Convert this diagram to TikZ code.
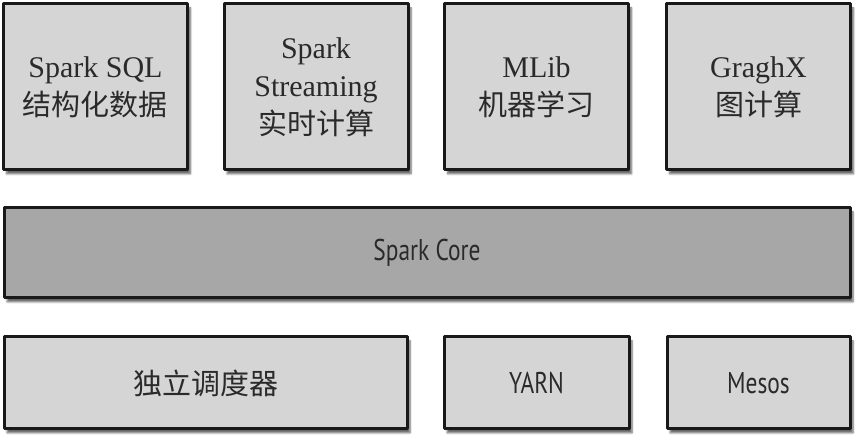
\documentclass[tikz,border=0pt]{standalone}
\usepackage{fontspec}
\setmainfont{Liberation Serif}
\newfontfamily\cjk{Noto Sans CJK SC}
\newfontfamily\cond[FakeStretch=0.78]{PT Sans}
\usetikzlibrary{shadows.blur}
\definecolor{lite}{HTML}{D5D5D5}
\definecolor{mid}{HTML}{A7A7A8}
\definecolor{ink}{HTML}{2A2A2A}
\begin{document}
\begin{tikzpicture}[x=1pt, y=1pt, line join=round,
  box/.style={draw=black!90, line width=3pt, fill=#1, text=ink, align=center, inner sep=0pt,
    blur shadow={shadow xshift=3pt, shadow yshift=-4pt, shadow blur steps=6, shadow opacity=60}},
  box/.default=lite,
  top/.style={box, minimum width=184pt, minimum height=166pt, font=\fontsize{30}{38}\selectfont},
  low/.style={box, minimum height=92pt, font=\cond\fontsize{30}{36}\selectfont}]
\useasboundingbox (0,0) rectangle (865,441);
\def\ytop{354} \def\ymid{188} \def\ylow{58}
% upper row
\foreach \x/\nm/\txt in {95.5/sql/{Spark SQL\\{\cjk\fontsize{29}{38}\selectfont 结构化数据}},
    316/stream/{Spark\\Streaming\\{\cjk\fontsize{29}{38}\selectfont 实时计算}},
    536.5/mlib/{MLib\\{\cjk\fontsize{29}{38}\selectfont 机器学习}},
    758.5/graph/{GraghX\\{\cjk\fontsize{29}{38}\selectfont 图计算}}}
  \node[top] (\nm) at (\x,\ytop) {\txt};
% core
\node[box=mid, minimum width=846pt, minimum height=90pt, font=\cond\fontsize{30}{36}\selectfont] (core) at (427,\ymid) {Spark Core};
% cluster managers
\node[low, minimum width=403pt] (alone) at (205.5,\ylow) {\cjk\fontsize{29}{36}\selectfont 独立调度器};
\node[low, minimum width=185pt] (yarn) at (536.5,\ylow) {YARN};
\node[low, minimum width=183pt] (mesos) at (758.5,\ylow) {Mesos};
\end{tikzpicture}
\end{document}
